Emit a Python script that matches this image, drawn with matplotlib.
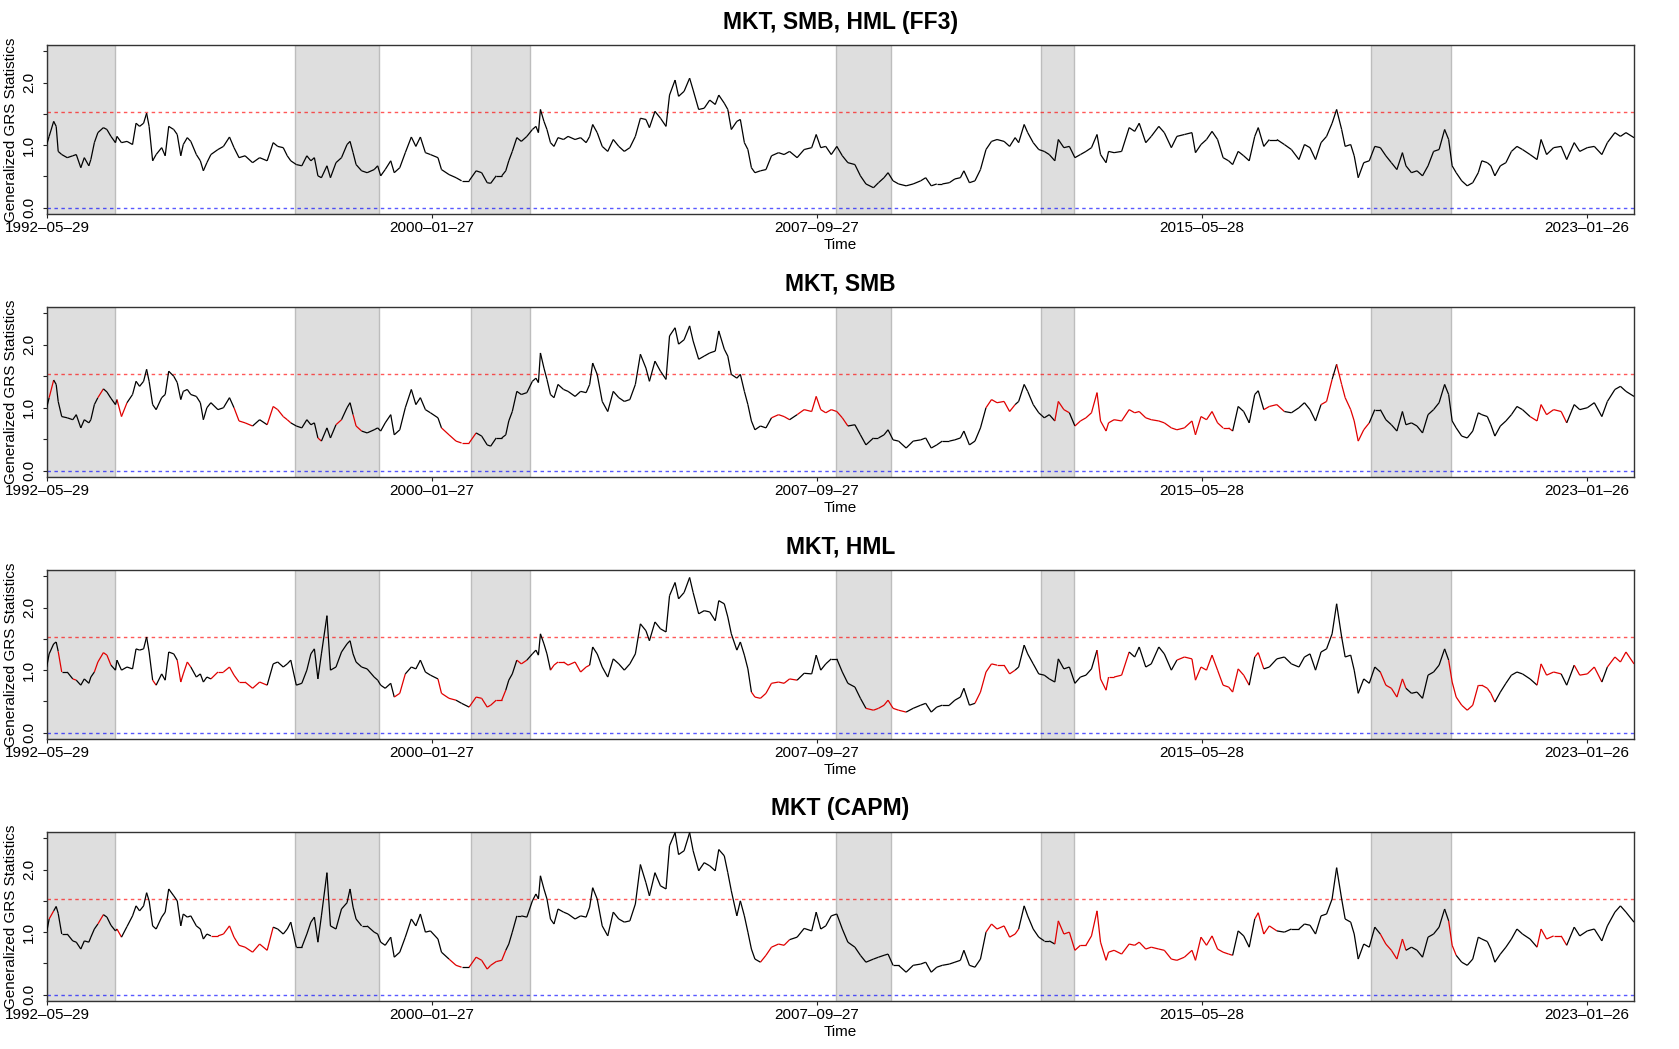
import numpy as np
import matplotlib
matplotlib.use("Agg")
import matplotlib.pyplot as plt
from matplotlib.collections import LineCollection
from datetime import date

plt.rcParams['font.family'] = ['Liberation Sans', 'DejaVu Sans']

# ---------------- data ----------------
t = [1992.40,1992.45,1992.54,1992.59,1992.63,1992.70,1992.81,1992.92,1992.99,1993.08,
     1993.15,1993.24,1993.28,1993.35,1993.42,1993.53,1993.60,1993.68,1993.77,1993.80,
     1993.89,1994.00,1994.11,1994.18,1994.25,1994.33,1994.39,1994.44,1994.51,1994.58,
     1994.69,1994.76,1994.83,1994.93,1995.00,1995.07,1995.12,1995.20,1995.27,1995.38,
     1995.46,1995.52,1995.59,1995.67,1995.81,1995.92,1996.04,1996.13,1996.23,1996.35,
     1996.50,1996.64,1996.79,1996.91,1997.00,1997.11,1997.19,1997.26,1997.37,1997.48,
     1997.58,1997.66,1997.73,1997.80,1997.87,1997.98,1998.05,1998.16,1998.27,1998.38,
     1998.44,1998.50,1998.56,1998.67,1998.78,1998.92,1998.99,1999.05,1999.14,1999.25,
     1999.32,1999.43,1999.54,1999.66,1999.75,1999.84,1999.94,2000.04,2000.19,2000.26,
     2000.41,2000.55,2000.66,2000.81,2000.95,2001.06,2001.17,2001.24,2001.35,2001.46,
     2001.54,2001.60,2001.67,2001.76,2001.85,2001.96,2002.07,2002.14,2002.19,2002.23,
     2002.30,2002.36,2002.43,2002.50,2002.58,2002.69,
     2002.78,2002.92,2003.03,2003.14,2003.21,2003.27,2003.36,2003.46,2003.57,2003.68,
     2003.79,2003.90,2004.01,2004.12,2004.22,2004.33,2004.40,2004.51,2004.62,2004.73,
     2004.80,2004.91,2004.98,2005.09,2005.20,2005.27,2005.38,2005.49,2005.60,2005.71,
     2005.78,2005.89,2005.96,2006.03,2006.14,2006.21,2006.29,2006.36,2006.43,2006.50,
     2006.61,2006.72,2006.83,2006.97,2007.08,2007.19,2007.34,2007.48,2007.63,2007.72,
     2007.81,2007.91,2008.02,2008.13,2008.24,2008.35,2008.49,2008.60,2008.71,2008.86,
     2008.96,2009.07,2009.15,2009.25,2009.36,2009.51,2009.65,2009.80,2009.90,2010.01,
     2010.12,2010.23,2010.37,2010.48,2010.59,2010.66,2010.77,2010.88,2010.99,2011.10,
     2011.21,2011.32,2011.46,2011.57,2011.68,2011.75,2011.86,2011.93,2012.04,2012.15,
     2012.26,2012.36,2012.47,2012.54,2012.65,2012.76,2012.87,2012.98,2013.09,2013.20,
     2013.31,2013.38,2013.49,
     2013.54,2013.65,2013.80,2013.95,2014.06,2014.15,2014.28,2014.39,2014.54,2014.65,
     2014.79,2014.90,2015.05,2015.20,2015.27,2015.38,2015.49,2015.60,2015.71,2015.82,
     2015.93,2016.01,2016.12,2016.23,2016.34,2016.45,2016.52,2016.63,2016.74,2016.89,
     2017.04,2017.18,2017.33,2017.44,2017.55,2017.66,2017.77,2017.88,2017.99,2018.08,
     2018.18,2018.25,2018.36,2018.43,2018.51,2018.62,2018.73,2018.84,2018.95,2019.06,
     2019.17,2019.28,2019.39,2019.46,2019.57,2019.68,2019.79,2019.90,2020.01,2020.12,
     2020.23,2020.31,2020.38,2020.46,2020.57,2020.68,2020.79,2020.90,2020.97,2021.08,
     2021.15,2021.23,2021.34,2021.45,2021.56,2021.67,2021.78,2021.93,2022.07,2022.15,
     2022.26,2022.40,2022.55,2022.66,2022.81,2022.92,2023.07,2023.21,2023.36,2023.47,
     2023.62,2023.73,2023.84,2024.00]

grs_ff3 = [1.01,1.14,1.38,1.30,0.90,0.85,0.80,0.83,0.85,0.64,
           0.80,0.67,0.77,1.04,1.20,1.28,1.25,1.14,1.04,1.14,
           1.04,1.06,1.01,1.35,1.30,1.35,1.51,1.30,0.75,0.85,
           0.96,0.83,1.30,1.25,1.17,0.83,1.01,1.12,1.06,0.85,
           0.75,0.59,0.72,0.85,0.93,0.98,1.13,0.96,0.80,0.83,
           0.72,0.80,0.75,1.04,0.98,0.96,0.83,0.75,0.69,0.67,
           0.83,0.75,0.80,0.51,0.48,0.67,0.48,0.72,0.80,1.01,
           1.06,0.88,0.69,0.59,0.56,0.61,0.67,0.51,0.61,0.75,
           0.56,0.64,0.88,1.13,0.98,1.13,0.88,0.85,0.80,0.61,
           0.53,0.48,0.43,0.43,0.59,0.56,0.40,0.39,0.51,0.51,
           0.59,0.75,0.90,1.12,1.06,1.14,1.25,1.30,1.20,1.57,
           1.38,1.25,1.04,0.98,1.12,1.09,
           1.14,1.09,1.12,1.04,1.14,1.33,1.20,0.98,0.90,1.09,
           0.98,0.90,0.96,1.14,1.43,1.41,1.28,1.54,1.43,1.30,
           1.80,2.04,1.78,1.86,2.07,1.88,1.57,1.59,1.72,1.65,
           1.80,1.67,1.57,1.25,1.38,1.41,1.04,0.93,0.64,0.56,
           0.59,0.61,0.83,0.88,0.85,0.90,0.80,0.93,0.96,1.17,
           0.96,0.98,0.85,0.98,0.83,0.72,0.69,0.51,0.38,0.32,
           0.40,0.48,0.56,0.43,0.38,0.35,0.38,0.43,0.48,0.35,
           0.38,0.38,0.40,0.46,0.48,0.59,0.40,0.43,0.61,0.93,
           1.06,1.09,1.06,0.98,1.12,1.04,1.33,1.20,1.04,0.93,
           0.90,0.85,0.75,1.09,0.96,0.98,0.80,0.85,0.90,0.96,
           1.17,0.85,0.72,
           0.90,0.88,0.90,1.28,1.22,1.35,1.04,1.14,1.30,1.20,
           0.96,1.14,1.17,1.20,0.88,1.01,1.09,1.22,1.09,0.80,
           0.75,0.69,0.90,0.83,0.75,1.14,1.28,0.98,1.09,1.09,
           1.01,0.93,0.77,1.01,0.96,0.77,1.04,1.14,1.35,1.57,
           1.25,0.98,1.01,0.83,0.48,0.72,0.75,0.98,0.96,0.83,
           0.72,0.61,0.88,0.67,0.56,0.59,0.51,0.67,0.90,0.93,
           1.25,1.09,0.67,0.56,0.43,0.35,0.40,0.56,0.75,0.72,
           0.67,0.51,0.67,0.72,0.90,0.98,0.93,0.85,0.77,1.09,
           0.85,0.96,0.98,0.77,1.04,0.90,0.96,0.98,0.85,1.04,
           1.20,1.14,1.20,1.12]

grs_smb = [1.00,1.16,1.44,1.37,1.10,0.86,0.84,0.81,0.89,0.68,
           0.81,0.76,0.81,1.05,1.16,1.30,1.25,1.15,1.05,1.13,
           0.86,1.08,1.21,1.42,1.34,1.42,1.61,1.42,1.05,0.97,
           1.16,1.21,1.58,1.50,1.40,1.13,1.26,1.29,1.21,1.18,
           1.08,0.81,1.00,1.08,0.97,1.00,1.16,1.00,0.79,0.76,
           0.71,0.81,0.73,1.02,0.97,0.86,0.81,0.76,0.71,0.68,
           0.81,0.73,0.76,0.52,0.47,0.68,0.52,0.73,0.81,1.00,
           1.08,0.89,0.71,0.63,0.60,0.65,0.68,0.63,0.76,0.89,
           0.57,0.65,1.00,1.29,1.05,1.16,0.97,0.92,0.84,0.68,
           0.57,0.47,0.44,0.44,0.60,0.55,0.41,0.39,0.52,0.52,
           0.57,0.79,0.94,1.26,1.21,1.24,1.42,1.47,1.40,1.87,
           1.63,1.45,1.21,1.16,1.37,1.29,
           1.26,1.18,1.26,1.24,1.37,1.71,1.53,1.10,0.94,1.26,
           1.16,1.10,1.13,1.37,1.85,1.63,1.42,1.74,1.58,1.45,
           2.14,2.27,2.01,2.08,2.30,2.06,1.77,1.82,1.87,1.90,
           2.22,1.93,1.82,1.53,1.47,1.53,1.26,1.05,0.79,0.65,
           0.71,0.68,0.84,0.89,0.86,0.81,0.89,0.97,0.94,1.18,
           0.97,0.92,0.97,0.94,0.84,0.71,0.73,0.57,0.41,0.52,
           0.52,0.57,0.65,0.49,0.47,0.36,0.47,0.49,0.52,0.36,
           0.41,0.47,0.47,0.49,0.52,0.63,0.41,0.47,0.68,1.00,
           1.13,1.08,1.10,0.94,1.05,1.10,1.37,1.26,1.05,0.92,
           0.84,0.89,0.79,1.10,0.97,0.92,0.71,0.79,0.84,0.92,
           1.24,0.79,0.63,
           0.76,0.81,0.79,0.97,0.92,0.94,0.84,0.81,0.79,0.76,
           0.68,0.65,0.68,0.79,0.57,0.86,0.81,0.94,0.76,0.68,
           0.68,0.63,1.02,0.94,0.76,1.21,1.27,0.97,1.02,1.05,
           0.94,0.92,1.00,1.08,0.97,0.79,1.05,1.10,1.45,1.69,
           1.37,1.16,0.97,0.79,0.47,0.65,0.76,0.97,0.97,0.81,
           0.73,0.63,0.94,0.73,0.76,0.71,0.60,0.89,0.97,1.08,
           1.37,1.21,0.79,0.68,0.55,0.52,0.63,0.92,0.89,0.86,
           0.73,0.55,0.71,0.79,0.89,1.02,0.97,0.86,0.79,1.05,
           0.89,0.97,0.94,0.76,1.05,0.97,1.00,1.08,0.86,1.10,
           1.29,1.34,1.26,1.18]

grs_hml = [1.05,1.26,1.42,1.45,1.30,0.97,0.97,0.86,0.84,0.76,
           0.86,0.79,0.89,0.97,1.13,1.28,1.24,1.08,1.00,1.16,
           1.00,1.05,1.02,1.34,1.32,1.34,1.53,1.29,0.84,0.76,
           0.94,0.84,1.29,1.26,1.16,0.81,0.94,1.13,1.05,0.89,
           0.94,0.81,0.89,0.86,0.97,0.97,1.05,0.92,0.81,0.81,
           0.71,0.81,0.76,1.10,1.13,1.05,1.10,1.16,0.76,0.79,
           1.00,1.26,1.34,0.86,1.26,1.87,1.00,1.05,1.29,1.42,
           1.47,1.26,1.13,1.05,1.02,0.89,0.84,0.76,0.71,0.79,
           0.57,0.63,0.94,1.05,1.02,1.16,0.97,0.92,0.86,0.63,
           0.55,0.52,0.47,0.41,0.57,0.55,0.41,0.44,0.52,0.52,
           0.68,0.84,0.94,1.16,1.10,1.16,1.26,1.32,1.24,1.58,
           1.42,1.26,1.00,1.08,1.13,1.13,
           1.08,1.13,0.97,1.05,1.08,1.37,1.26,1.05,0.89,1.18,
           1.10,1.00,1.10,1.26,1.74,1.63,1.47,1.77,1.66,1.61,
           2.19,2.40,2.14,2.24,2.48,2.24,1.90,1.95,1.93,1.79,
           2.11,2.06,1.85,1.58,1.32,1.45,1.24,1.02,0.65,0.57,
           0.55,0.63,0.79,0.81,0.79,0.86,0.84,0.95,0.94,1.24,
           1.00,1.10,1.18,1.18,0.97,0.79,0.73,0.55,0.39,0.36,
           0.39,0.44,0.52,0.39,0.36,0.33,0.39,0.44,0.47,0.33,
           0.41,0.44,0.44,0.52,0.57,0.71,0.44,0.47,0.65,0.97,
           1.10,1.08,1.08,0.94,1.00,1.05,1.40,1.26,1.10,0.94,
           0.92,0.86,0.81,1.18,1.02,1.05,0.79,0.89,0.92,1.02,
           1.32,0.86,0.68,
           0.89,0.89,0.92,1.29,1.21,1.37,1.05,1.10,1.37,1.26,
           1.00,1.16,1.21,1.18,0.84,1.05,1.00,1.24,1.00,0.76,
           0.73,0.65,1.02,0.92,0.76,1.21,1.28,1.02,1.05,1.18,
           1.21,1.10,1.05,1.21,1.26,1.00,1.29,1.34,1.58,2.06,
           1.53,1.21,1.24,1.00,0.63,0.86,0.79,1.05,0.97,0.76,
           0.71,0.57,0.86,0.71,0.63,0.65,0.55,0.92,0.97,1.08,
           1.34,1.16,0.81,0.57,0.44,0.36,0.44,0.76,0.76,0.71,
           0.63,0.49,0.65,0.79,0.92,0.97,0.94,0.86,0.76,1.10,
           0.92,0.97,0.94,0.76,1.08,0.92,0.94,1.05,0.81,1.05,
           1.21,1.13,1.29,1.10]

grs_capm = [1.00,1.21,1.34,1.41,1.30,0.97,0.97,0.86,0.84,0.73,
            0.86,0.84,0.92,1.05,1.13,1.28,1.24,1.11,1.02,1.05,
            0.92,1.09,1.26,1.42,1.34,1.42,1.63,1.50,1.10,1.05,
            1.24,1.32,1.69,1.58,1.50,1.10,1.29,1.24,1.26,1.10,
            1.05,0.89,0.97,0.94,0.94,0.97,1.10,0.92,0.79,0.76,
            0.68,0.81,0.71,1.08,1.05,0.97,1.05,1.16,0.76,0.76,
            0.97,1.16,1.24,0.84,1.26,1.95,1.10,1.05,1.37,1.47,
            1.69,1.40,1.21,1.10,1.10,1.00,0.97,0.84,0.79,0.92,
            0.60,0.68,0.92,1.21,1.10,1.29,1.00,1.02,0.89,0.68,
            0.57,0.47,0.44,0.44,0.60,0.55,0.41,0.47,0.53,0.55,
            0.71,0.81,1.00,1.26,1.26,1.24,1.50,1.61,1.53,1.90,
            1.69,1.53,1.21,1.13,1.37,1.32,
            1.29,1.21,1.26,1.24,1.40,1.71,1.53,1.10,0.94,1.32,
            1.21,1.16,1.18,1.45,2.08,1.79,1.58,1.95,1.74,1.69,
            2.38,2.59,2.24,2.30,2.59,2.30,1.98,2.11,2.06,1.98,
            2.32,2.22,1.95,1.66,1.26,1.50,1.26,1.00,0.73,0.57,
            0.52,0.63,0.76,0.81,0.79,0.88,0.92,1.06,1.02,1.32,
            1.05,1.10,1.26,1.29,1.05,0.84,0.76,0.63,0.52,0.57,
            0.60,0.63,0.65,0.47,0.47,0.36,0.47,0.49,0.52,0.36,
            0.44,0.47,0.49,0.52,0.55,0.71,0.47,0.44,0.57,1.00,
            1.13,1.05,1.10,0.92,0.97,1.05,1.42,1.26,1.05,0.92,
            0.86,0.86,0.81,1.18,0.97,1.00,0.71,0.79,0.79,0.94,
            1.34,0.84,0.55,
            0.68,0.71,0.65,0.81,0.79,0.84,0.73,0.76,0.73,0.71,
            0.57,0.55,0.60,0.71,0.55,0.92,0.79,0.94,0.73,0.68,
            0.65,0.63,1.02,0.94,0.76,1.21,1.31,0.97,1.10,1.02,
            1.00,1.05,1.05,1.13,1.11,0.97,1.26,1.29,1.53,2.03,
            1.53,1.21,1.16,0.97,0.57,0.81,0.76,1.08,0.97,0.81,
            0.71,0.57,0.89,0.71,0.76,0.71,0.60,0.92,0.97,1.08,
            1.37,1.18,0.79,0.63,0.52,0.47,0.57,0.92,0.89,0.85,
            0.73,0.52,0.65,0.76,0.89,1.05,0.97,0.89,0.76,1.05,
            0.89,0.94,0.94,0.79,1.08,0.94,1.02,1.05,0.86,1.10,
            1.32,1.42,1.32,1.16]

titles = ["MKT, SMB, HML (FF3)", "MKT, SMB", "MKT, HML", "MKT (CAPM)"]

# periods in which the statistic is drawn in red (none for FF3)
red_ff3 = []
red_smb = [(1992.47, 1992.56), (1993.40, 1993.55), (1993.84, 1993.95), (1996.10, 1996.55),
           (1996.72, 1997.27), (1997.79, 1997.88), (1998.20, 1998.32), (1998.52, 1998.68),
           (2000.25, 2000.95), (2006.85, 2007.20), (2007.40, 2008.35), (2011.15, 2011.70),
           (2012.50, 2012.78), (2012.84, 2016.05), (2016.60, 2017.00), (2017.75, 2017.95),
           (2018.08, 2018.76), (2022.00, 2022.62)]
red_hml = [(1992.62, 1992.71), (1992.94, 1993.01), (1993.35, 1993.65), (1994.50, 1994.63),
           (1995.01, 1995.31), (1995.66, 1996.10), (1996.16, 1996.80), (1999.30, 1999.53),
           (2000.18, 2000.57), (2000.84, 2001.50), (2001.74, 2001.97), (2002.45, 2002.85),
           (2002.90, 2003.22), (2006.42, 2007.27), (2008.77, 2009.52), (2010.87, 2011.70),
           (2013.33, 2013.96), (2014.88, 2016.38), (2016.48, 2016.61), (2018.94, 2019.47),
           (2020.30, 2021.24), (2022.06, 2022.56), (2022.76, 2023.37), (2023.46, 2024.00)]
red_capm = [(1992.47, 1992.55), (1992.96, 1993.01), (1993.42, 1993.53), (1993.84, 1993.94),
            (1995.73, 1996.10), (1996.16, 1996.90), (2000.43, 2000.61), (2000.79, 2001.50),
            (2006.57, 2007.20), (2011.13, 2011.72), (2012.50, 2012.85), (2012.87, 2016.05),
            (2016.44, 2016.83), (2018.94, 2019.44), (2020.30, 2020.43), (2022.03, 2022.64)]

shade_periods = [(1992.407, 1993.77), (1997.35, 1999.02), (2000.85, 2002.02),
                 (2008.12, 2009.20), (2012.20, 2012.86), (2018.77, 2020.35)]
tick_dates = ["1992-05-29", "2000-01-27", "2007-09-27", "2015-05-28", "2023-01-26"]
crit_value = 1.53
zero_value = 0.0

series = [grs_ff3, grs_smb, grs_hml, grs_capm]
reds = [red_ff3, red_smb, red_hml, red_capm]
for s in series:
    assert len(s) == len(t), (len(s), len(t))


def dec_year(s):
    d = date.fromisoformat(s)
    a = date(d.year, 1, 1)
    b = date(d.year + 1, 1, 1)
    return d.year + (d - a).days / (b - a).days


# ---------------- figure ----------------
W, H = 1679, 1049
fig = plt.figure(figsize=(W / 100, H / 100), dpi=100)
left_px, right_px = 47, 1634
panel_px = [(45, 214), (307, 477), (570, 739), (832, 1001)]

xt = [dec_year(s) for s in tick_dates]
xl = [s.replace("-", "\u2013") for s in tick_dates]
tt = np.array(t)

for k, (top, bot) in enumerate(panel_px):
    ax = fig.add_axes([left_px / W, 1 - bot / H, (right_px - left_px) / W, (bot - top) / H])
    for a, b in shade_periods:
        ax.axvspan(a, b, facecolor='#DEDEDE', edgecolor='#BDBDBD', lw=1.0, zorder=0)
    ax.axhline(crit_value, color='red', lw=1.0, ls=(0, (2.5, 2.5)), alpha=0.65, zorder=1)
    ax.axhline(zero_value, color='blue', lw=1.0, ls=(0, (2.5, 2.5)), alpha=0.65, zorder=1)

    y = np.array(series[k])
    pts = np.column_stack([tt, y])
    segs = np.stack([pts[:-1], pts[1:]], axis=1)
    mids = 0.5 * (tt[:-1] + tt[1:])
    cols = []
    for m in mids:
        isred = any(a <= m <= b for a, b in reds[k])
        cols.append('#E00000' if isred else 'black')
    lc = LineCollection(segs, colors=cols, linewidths=0.9, zorder=3)
    ax.add_collection(lc)

    ax.set_xlim(dec_year("1992-05-29"), 2024.0)
    ax.set_ylim(-0.1, 2.6)
    ax.set_yticks([0, 0.5, 1.0, 1.5, 2.0, 2.5])
    ax.set_yticklabels(['0.0', '', '1.0', '', '2.0', ''], rotation=90, va='center', fontsize=11)
    ax.set_xticks(xt)
    ax.set_xticklabels(xl, fontsize=11)
    ax.tick_params(axis='both', direction='out', length=3.2, width=0.8, color='#222222')
    ax.tick_params(axis='y', pad=4.5)
    ax.tick_params(axis='x', pad=2.0)
    for sp in ax.spines.values():
        sp.set_color('#333333')
        sp.set_linewidth(1.0)

    ax.set_xlabel("Time", fontsize=11)
    ax.xaxis.set_label_coords(0.5, -24 / (bot - top))
    ax.set_ylabel("Generalized GRS Statistics", fontsize=11)
    ax.yaxis.label.set_va('center')
    ax.yaxis.set_label_coords(-36 / (right_px - left_px), 0.5)

    ax.text(0.5, 1 + 23 / (bot - top), titles[k], transform=ax.transAxes,
            ha='center', va='center', fontsize=16.5, fontweight='bold')

fig.savefig("out.png", dpi=100)
